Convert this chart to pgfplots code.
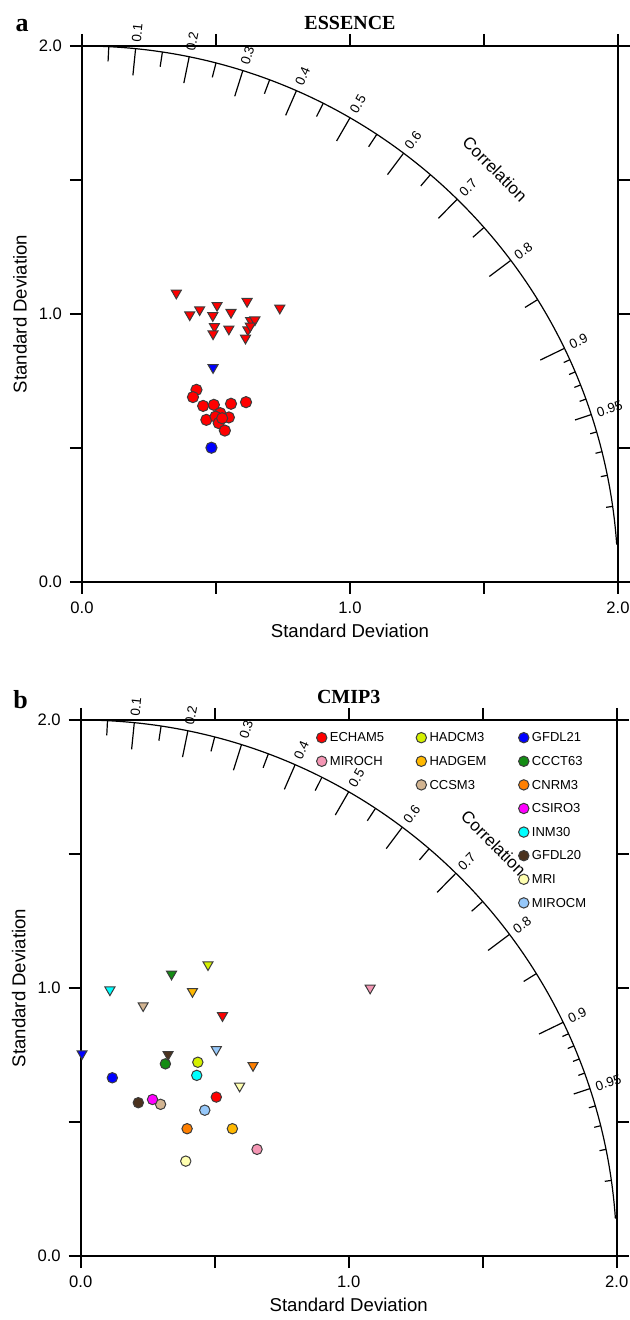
\documentclass[border=0pt]{standalone}
\usepackage{fontspec}
\setmainfont{Liberation Sans}
\newfontfamily\serifb{Liberation Serif}
\usepackage{pgfplots}
\pgfplotsset{compat=1.18}

\definecolor{cECHAM}{RGB}{255,0,0}
\definecolor{cMIROCH}{RGB}{244,150,180}
\definecolor{cHADCM}{RGB}{212,240,0}
\definecolor{cHADGEM}{RGB}{255,184,0}
\definecolor{cCCSM}{RGB}{210,180,145}
\definecolor{cGFDLa}{RGB}{0,0,255}
\definecolor{cCCCT}{RGB}{20,140,20}
\definecolor{cCNRM}{RGB}{255,127,0}
\definecolor{cCSIRO}{RGB}{255,0,255}
\definecolor{cINM}{RGB}{0,255,255}
\definecolor{cGFDLb}{RGB}{75,50,30}
\definecolor{cMRI}{RGB}{255,255,176}
\definecolor{cMIROCM}{RGB}{150,200,250}
\definecolor{edge}{RGB}{60,60,60}

\pgfplotsset{
  taylor/.style={
    scale only axis, width=268pt, height=268pt,
    xmin=0, xmax=2, ymin=0, ymax=2,
    xtick={0,0.5,1,1.5,2}, ytick={0,0.5,1,1.5,2},
    xticklabels={0.0,,1.0,,2.0}, yticklabels={0.0,,1.0,,2.0},
    tick align=outside, major tick length=6pt,
    axis line style={line width=0.8pt},
    every tick/.style={black, line width=0.8pt},
    tick label style={font=\fontsize{8.3}{10}\selectfont},
    xticklabel style={anchor=center, yshift=-7pt},
    yticklabel style={anchor=east, xshift=-0.5pt},
    xlabel={Standard Deviation}, ylabel={Standard Deviation},
    label style={font=\fontsize{9.3}{11}\selectfont},
    xlabel style={at={(axis description cs:0.5,0)}, anchor=center, yshift=-24.5pt},
    ylabel style={at={(axis description cs:0,0.5)}, anchor=center, yshift=31pt},
    title style={at={(axis description cs:0.5,1)}, anchor=center, yshift=5.5pt,
      font=\serifb\bfseries\fontsize{10}{12}\selectfont},
    clip=false,
  },
  circ/.style={only marks, mark=*, mark size=2.6pt, mark options={draw=edge, line width=0.5pt}},
  tri/.style={only marks, mark=triangle*, mark size=2.9pt, mark options={draw=edge, line width=0.5pt, rotate=180}},
}

\newcommand{\taylordeco}{%
  \draw[line width=0.6pt] (89:268pt) arc[start angle=89, end angle=4, radius=268pt];
  \foreach \c in {0.1,0.2,0.3,0.4,0.5,0.6,0.7,0.8,0.9} {
    \pgfmathsetmacro\a{acos(\c)}
    \draw[line width=0.6pt] (\a:268pt) -- (\a:254.6pt);
    \node[rotate=\a, anchor=west, inner sep=0pt, font=\fontsize{6.7}{8}\selectfont] at (\a:271pt) {\c};
  }
  \foreach \c in {0.05,0.15,0.25,0.35,0.45,0.55,0.65,0.75,0.85} {
    \pgfmathsetmacro\a{acos(\c)}
    \draw[line width=0.6pt] (\a:268pt) -- (\a:260.6pt);
  }
  \foreach \c in {0.91,0.92,0.93,0.94,0.96,0.97,0.98,0.99} {
    \pgfmathsetmacro\a{acos(\c)}
    \draw[line width=0.6pt] (\a:268pt) -- (\a:264.7pt);
  }
  \pgfmathsetmacro\a{acos(0.95)}
  \draw[line width=0.6pt] (\a:268pt) -- (\a:259.5pt);
  \node[rotate=\a, anchor=west, inner sep=0pt, font=\fontsize{6.7}{8}\selectfont] at (\a:271pt) {0.95};
  \node[rotate=-45, font=\fontsize{8.5}{10}\selectfont] at (45:292pt) {Correlation};
}

\begin{document}
\begin{tikzpicture}
\useasboundingbox (-41pt,-369pt) rectangle (274pt,291pt);

% ---------------- panel a ----------------
\begin{axis}[taylor, at={(0,0)}, anchor=south west, title={ESSENCE}]
\addplot[tri, fill=cECHAM] coordinates {
(0.352,1.078) (0.402,0.997) (0.439,1.016) (0.504,1.032) (0.488,0.994)
(0.556,1.006) (0.616,1.047) (0.738,1.022) (0.494,0.953) (0.489,0.926)
(0.548,0.944) (0.629,0.976) (0.645,0.978) (0.619,0.941) (0.610,0.910)
(0.628,0.955)};
\addplot[tri, fill=cGFDLa] coordinates {(0.489,0.800)};
\addplot[circ, fill=cECHAM, mark size=2.8pt] coordinates {
(0.427,0.717) (0.414,0.690) (0.452,0.657) (0.492,0.661) (0.556,0.665)
(0.612,0.671) (0.516,0.630) (0.464,0.605) (0.498,0.617) (0.548,0.614)
(0.510,0.593) (0.533,0.565) (0.523,0.611)};
\addplot[circ, fill=cGFDLa, mark size=2.8pt] coordinates {(0.483,0.501)};
\end{axis}
\taylordeco
\node[font=\serifb\bfseries\fontsize{13}{15}\selectfont] at (-30pt,278.25pt) {a};

% ---------------- panel b ----------------
\begin{axis}[taylor, at={(-0.65pt,-337pt)}, anchor=south west, title={CMIP3},
  legend columns=3,
  legend cell align=left,
  legend image code/.code={\draw[#1] plot coordinates {(0pt,0pt)};},
  legend style={at={(axis cs:0.88,1.965)}, anchor=north west, draw=none, fill=none,
    inner sep=0pt, outer sep=0pt,
    font=\fontsize{6.5}{7.5}\selectfont,
    nodes={inner sep=1.5pt, text height=4.8pt, text depth=0.5pt},
    row sep=3.5pt,
    /tikz/every even column/.append style={column sep=14.5pt}},
]
% circles (20th century) and triangles
\addplot[circ, fill=cECHAM, forget plot] coordinates {(0.506,0.593)};
\addplot[tri,  fill=cECHAM, forget plot] coordinates {(0.529,0.897)};
\addplot[circ, fill=cMIROCH, forget plot] coordinates {(0.658,0.398)};
\addplot[tri,  fill=cMIROCH, forget plot] coordinates {(1.080,1.000)};
\addplot[circ, fill=cHADCM, forget plot] coordinates {(0.437,0.723)};
\addplot[tri,  fill=cHADCM, forget plot] coordinates {(0.475,1.087)};
\addplot[circ, fill=cHADGEM, forget plot] coordinates {(0.566,0.475)};
\addplot[tri,  fill=cHADGEM, forget plot] coordinates {(0.417,0.987)};
\addplot[circ, fill=cCCSM, forget plot] coordinates {(0.298,0.566)};
\addplot[tri,  fill=cCCSM, forget plot] coordinates {(0.233,0.934)};
\addplot[circ, fill=cGFDLa, forget plot] coordinates {(0.118,0.665)};
\addplot[tri,  fill=cGFDLa, forget plot] coordinates {(0.005,0.755)};
\addplot[circ, fill=cCCCT, forget plot] coordinates {(0.316,0.717)};
\addplot[tri,  fill=cCCCT, forget plot] coordinates {(0.339,1.052)};
\addplot[circ, fill=cCNRM, forget plot] coordinates {(0.397,0.475)};
\addplot[tri,  fill=cCNRM, forget plot] coordinates {(0.643,0.711)};
\addplot[circ, fill=cCSIRO, forget plot] coordinates {(0.268,0.584)};
\addplot[circ, fill=cINM, forget plot] coordinates {(0.433,0.674)};
\addplot[tri,  fill=cINM, forget plot] coordinates {(0.109,0.993)};
\addplot[tri,  fill=cGFDLb, forget plot] coordinates {(0.326,0.752)};
\addplot[circ, fill=cGFDLb, forget plot] coordinates {(0.215,0.572)};
\addplot[circ, fill=cMRI, forget plot] coordinates {(0.392,0.354)};
\addplot[tri,  fill=cMRI, forget plot] coordinates {(0.593,0.634)};
\addplot[circ, fill=cMIROCM, forget plot] coordinates {(0.463,0.544)};
\addplot[tri,  fill=cMIROCM, forget plot] coordinates {(0.506,0.770)};
% legend (row-major, 3 columns)
\addlegendimage{circ, fill=cECHAM}\addlegendentry{ECHAM5}
\addlegendimage{circ, fill=cHADCM}\addlegendentry{HADCM3}
\addlegendimage{circ, fill=cGFDLa}\addlegendentry{GFDL21}
\addlegendimage{circ, fill=cMIROCH}\addlegendentry{MIROCH}
\addlegendimage{circ, fill=cHADGEM}\addlegendentry{HADGEM}
\addlegendimage{circ, fill=cCCCT}\addlegendentry{CCCT63}
\addlegendimage{empty legend}\addlegendentry{}
\addlegendimage{circ, fill=cCCSM}\addlegendentry{CCSM3}
\addlegendimage{circ, fill=cCNRM}\addlegendentry{CNRM3}
\addlegendimage{empty legend}\addlegendentry{}
\addlegendimage{empty legend}\addlegendentry{}
\addlegendimage{circ, fill=cCSIRO}\addlegendentry{CSIRO3}
\addlegendimage{empty legend}\addlegendentry{}
\addlegendimage{empty legend}\addlegendentry{}
\addlegendimage{circ, fill=cINM}\addlegendentry{INM30}
\addlegendimage{empty legend}\addlegendentry{}
\addlegendimage{empty legend}\addlegendentry{}
\addlegendimage{circ, fill=cGFDLb}\addlegendentry{GFDL20}
\addlegendimage{empty legend}\addlegendentry{}
\addlegendimage{empty legend}\addlegendentry{}
\addlegendimage{circ, fill=cMRI}\addlegendentry{MRI}
\addlegendimage{empty legend}\addlegendentry{}
\addlegendimage{empty legend}\addlegendentry{}
\addlegendimage{circ, fill=cMIROCM}\addlegendentry{MIROCM}
\end{axis}
\begin{scope}[shift={(-0.65pt,-337pt)}]
\taylordeco
\end{scope}
\node[font=\serifb\bfseries\fontsize{13}{15}\selectfont] at (-30.65pt,-58.75pt) {b};
\end{tikzpicture}
\end{document}
